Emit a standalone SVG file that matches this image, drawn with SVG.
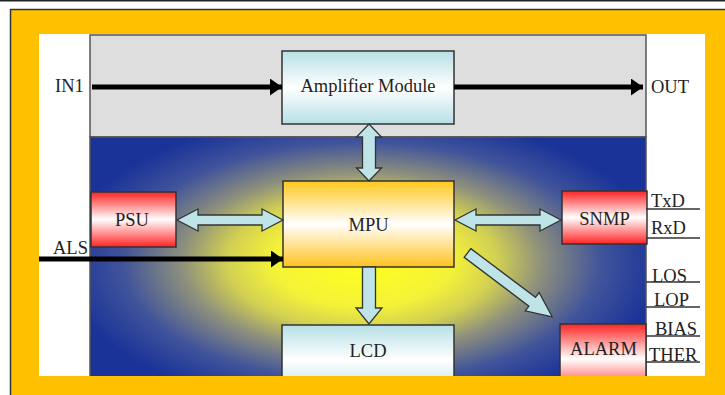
<svg xmlns="http://www.w3.org/2000/svg" width="725" height="395" viewBox="0 0 725 395">
<defs>
<style>
text{font-family:"Liberation Serif","Times New Roman",serif;font-size:18.5px;fill:#222}
.c{text-anchor:middle}
.box{stroke:#333;stroke-width:1.5}
.dbl{fill:#BEE4E8;stroke:#333;stroke-width:1.3;stroke-linejoin:miter}
.blk{stroke:#000;stroke-width:5;fill:none}
.lbl{stroke:#333;stroke-width:1.5}
</style>
<linearGradient id="gCyan" x1="0" y1="0" x2="0" y2="1">
<stop offset="0" stop-color="#B6E0E6"/><stop offset="0.5" stop-color="#FFFFFF"/><stop offset="1" stop-color="#B6E0E6"/>
</linearGradient>
<linearGradient id="gRed" x1="0" y1="0" x2="0" y2="1">
<stop offset="0" stop-color="#FF2424"/><stop offset="0.5" stop-color="#FFFFFF"/><stop offset="1" stop-color="#FF2424"/>
</linearGradient>
<linearGradient id="gOrg" x1="0" y1="0" x2="0" y2="1">
<stop offset="0" stop-color="#FFC81E"/><stop offset="0.5" stop-color="#FFFFFF"/><stop offset="1" stop-color="#FFC21E"/>
</linearGradient>
<radialGradient id="gBg" gradientUnits="userSpaceOnUse" cx="362" cy="262" r="300" gradientTransform="translate(0,131) scale(1,0.5)">
<stop offset="0" stop-color="#FFFF1E"/>
<stop offset="0.3" stop-color="#F4F238"/>
<stop offset="0.45" stop-color="#D2D052"/>
<stop offset="0.6" stop-color="#8E907C"/>
<stop offset="0.8" stop-color="#40539B"/>
<stop offset="1" stop-color="#1A3398"/>
</radialGradient>
<clipPath id="inner"><rect x="39" y="34" width="666" height="342"/></clipPath>
<marker id="ah" viewBox="0 0 12 17" refX="12" refY="8.5" markerWidth="12" markerHeight="17" markerUnits="userSpaceOnUse" orient="auto">
<path d="M0,0 L12,8.5 L0,17 Z" fill="#000"/>
</marker>
</defs>

<line x1="0" y1="0.75" x2="725" y2="0.75" stroke="#222" stroke-width="1.5"/>
<rect x="10.5" y="9.5" width="730" height="400" fill="#FFC000" stroke="#333" stroke-width="1.5"/>
<rect x="39" y="34" width="666" height="342" fill="#FFFFFF"/>

<g clip-path="url(#inner)">
<g id="board">
<rect x="90" y="35" width="556" height="102" fill="#DEDEDE" stroke="#555" stroke-width="1.5"/>
<rect x="90" y="137" width="556" height="260" fill="url(#gBg)" stroke="#555" stroke-width="1.5"/>
</g>

<g id="amplifier">
<rect class="box" x="282" y="51" width="172" height="73" fill="url(#gCyan)"/>
<text class="c" x="368" y="92">Amplifier Module</text>
</g>
<g id="mpu">
<rect class="box" x="283" y="181" width="171" height="86" fill="url(#gOrg)"/>
<text class="c" x="368.5" y="231">MPU</text>
</g>
<g id="psu">
<rect class="box" x="91" y="192" width="85" height="55" fill="url(#gRed)"/>
<text class="c" x="132" y="226">PSU</text>
</g>
<g id="snmp">
<rect class="box" x="562" y="191" width="85" height="53" fill="url(#gRed)"/>
<text class="c" x="604.5" y="225">SNMP</text>
</g>
<g id="lcd">
<rect class="box" x="282" y="325" width="172" height="70" fill="url(#gCyan)"/>
<text class="c" x="368" y="357">LCD</text>
</g>
<g id="alarm">
<rect class="box" x="560" y="324" width="86" height="70" fill="url(#gRed)"/>
<text class="c" x="603.5" y="355">ALARM</text>
</g>

<g id="connectors">
<line class="blk" x1="92" y1="87" x2="282" y2="87" marker-end="url(#ah)"/>
<line class="blk" x1="454" y1="87" x2="643" y2="87" marker-end="url(#ah)"/>
<line class="blk" x1="39" y1="259" x2="283" y2="259" marker-end="url(#ah)"/>
<path class="dbl" d="M369,124 L381.5,137 L375.5,137 L375.5,168 L381.5,168 L369,181 L356.5,168 L362.5,168 L362.5,137 L356.5,137 Z"/>
<path class="dbl" d="M177,220 L198,209 L198,215 L262,215 L262,209 L283,220 L262,231 L262,225 L198,225 L198,231 Z"/>
<path class="dbl" d="M455,220 L476,209 L476,215 L540,215 L540,209 L561,220 L540,231 L540,225 L476,225 L476,231 Z"/>
<path class="dbl" d="M362.5,267 L375.5,267 L375.5,308 L382,308 L369,324 L356,308 L362.5,308 Z"/>
<path class="dbl" transform="translate(467.5,253) rotate(37)" d="M0,-5.5 L81,-5.5 L81,-11.5 L106,0 L81,11.5 L81,5.5 L0,5.5 Z"/>
</g>

<g id="labels">
<text x="55" y="92">IN1</text>
<text x="651" y="93">OUT</text>
<text x="53" y="254">ALS</text>
<text x="651" y="207">TxD</text>
<line class="lbl" x1="646" y1="209" x2="700" y2="209"/>
<text x="651" y="234">RxD</text>
<line class="lbl" x1="646" y1="238" x2="700" y2="238"/>
<text x="652" y="282">LOS</text>
<line class="lbl" x1="646" y1="282" x2="700" y2="282"/>
<text x="654" y="306">LOP</text>
<line class="lbl" x1="646" y1="307" x2="700" y2="307"/>
<text x="655" y="335">BIAS</text>
<line class="lbl" x1="646" y1="336" x2="700" y2="336"/>
<text x="649" y="361">THER</text>
<line class="lbl" x1="646" y1="362" x2="700" y2="362"/>
</g>
</g>
</svg>
